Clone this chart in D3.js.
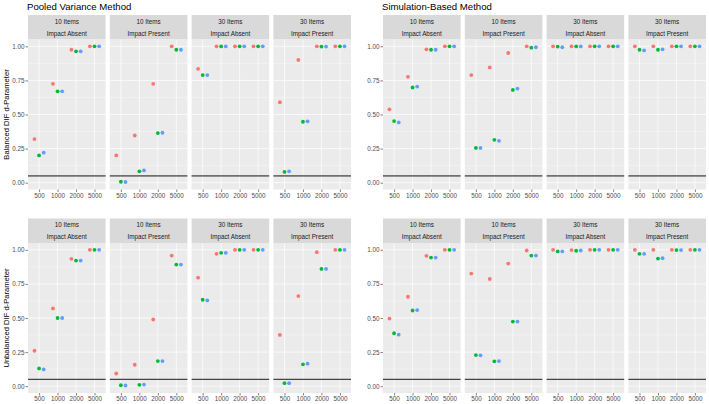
<!DOCTYPE html>
<html>
<head>
<meta charset="utf-8">
<script src="https://cdn.jsdelivr.net/npm/d3@7"></script>
<style>
body { margin: 0; background: #fff; }
svg { font-family: "Liberation Sans", Arial, sans-serif; }
</style>
</head>
<body>
<script>
// facets and categories
var methods = ["Pooled Variance Method", "Simulation-Based Method"];
var rowTitles = ["Balanced DIF d-Parameter", "Unbalanced DIF d-Parameter"];
var facetItems = ["10 Items", "10 Items", "30 Items", "30 Items"];
var facetImpact = ["Impact Absent", "Impact Present", "Impact Absent", "Impact Present"];
var sampleSizes = ["500", "1000", "2000", "5000"];
var seriesKeys = ["s1", "s2", "s3"];
var seriesColors = ["#F8766D", "#00BA38", "#619CFF"];
var yTicks = [0, 0.25, 0.5, 0.75, 1];
var refLine = 0.05;

// values: 4 facets x 4 sample sizes
var pooledBalancedS1 = [0.32, 0.725, 0.975, 1.0,  0.20, 0.346, 0.725, 1.0,  0.835, 1.0, 1.0, 1.0,  0.59, 0.90, 1.0, 1.0];
var pooledBalancedS2 = [0.20, 0.67, 0.963, 1.0,   0.007, 0.083, 0.364, 0.975,  0.789, 0.999, 1.0, 1.0,  0.079, 0.447, 0.998, 1.0];
var pooledBalancedS3 = [0.22, 0.67, 0.963, 1.0,   0.005, 0.09, 0.366, 0.975,  0.789, 0.999, 1.0, 1.0,  0.083, 0.45, 0.998, 1.0];

var simBalancedS1 = [0.538, 0.776, 0.978, 1.0,  0.789, 0.845, 0.951, 1.0,  1.0, 1.0, 1.0, 1.0,  1.0, 1.0, 1.0, 1.0];
var simBalancedS2 = [0.452, 0.698, 0.975, 1.0,  0.255, 0.314, 0.68, 0.99,  0.998, 0.999, 1.0, 1.0,  0.975, 0.975, 1.0, 1.0];
var simBalancedS3 = [0.442, 0.705, 0.975, 1.0,  0.255, 0.307, 0.69, 0.993,  0.993, 0.999, 1.0, 1.0,  0.97, 0.978, 1.0, 1.0];

var pooledUnbalancedS1 = [0.26, 0.57, 0.934, 1.0,  0.093, 0.157, 0.489, 0.958,  0.796, 0.97, 1.0, 1.0,  0.376, 0.661, 0.983, 1.0];
var pooledUnbalancedS2 = [0.13, 0.50, 0.921, 1.0,  0.007, 0.01, 0.184, 0.892,  0.634, 0.978, 1.0, 1.0,  0.022, 0.16, 0.86, 1.0];
var pooledUnbalancedS3 = [0.123, 0.50, 0.921, 1.0, 0.005, 0.012, 0.184, 0.892,  0.629, 0.978, 1.0, 1.0,  0.022, 0.165, 0.86, 1.0];

var simUnbalancedS1 = [0.496, 0.656, 0.956, 1.0,  0.826, 0.786, 0.899, 0.995,  1.0, 0.998, 1.0, 1.0,  1.0, 1.0, 1.0, 1.0];
var simUnbalancedS2 = [0.388, 0.555, 0.943, 1.0,  0.228, 0.182, 0.474, 0.958,  0.988, 0.993, 1.0, 1.0,  0.97, 0.936, 0.998, 1.0];
var simUnbalancedS3 = [0.378, 0.558, 0.943, 1.0,  0.226, 0.184, 0.474, 0.958,  0.988, 0.995, 1.0, 1.0,  0.97, 0.939, 0.998, 1.0];

// panels[row][method] -> [s1, s2, s3]
var panels = [
	[[pooledBalancedS1, pooledBalancedS2, pooledBalancedS3], [simBalancedS1, simBalancedS2, simBalancedS3]],
	[[pooledUnbalancedS1, pooledUnbalancedS2, pooledUnbalancedS3], [simUnbalancedS1, simUnbalancedS2, simUnbalancedS3]]
];

var width = 709, height = 404;
var methodX = [28, 383];
var facetW = 77.6, facetGap = 4.2;
var rowStripTop = [15, 218.5];
var stripH = 24.5;
var panelH = 150;

var svg = d3.select("body").append("svg")
	.attr("width", width)
	.attr("height", height);

// TITLES
methods.forEach(function(m, mi) {
	svg.append("text")
		.attr("x", methodX[mi] - 1)
		.attr("y", 10)
		.style("font-size", "9.6px")
		.style("fill", "#000")
		.text(m);
});

rowTitles.forEach(function(t, ri) {
	var top = rowStripTop[ri] + stripH;
	svg.append("text")
		.attr("transform", "translate(9," + (top + panelH / 2) + ") rotate(-90)")
		.attr("text-anchor", "middle")
		.style("font-size", "7.6px")
		.style("fill", "#000")
		.text(t);
});

var y0 = d3.scaleLinear().domain([-0.05, 1.05]);

rowTitles.forEach(function(rt, ri) {
	var pTop = rowStripTop[ri] + stripH;
	var y = y0.copy().range([pTop + panelH, pTop]);

	methods.forEach(function(m, mi) {
		// y axis on the left of each method block
		var ax = svg.append("g")
			.attr("transform", "translate(" + methodX[mi] + ",0)")
			.call(d3.axisLeft(y).tickValues(yTicks).tickSize(2.5).tickFormat(d3.format(".2f")));
		ax.select(".domain").remove();
		ax.selectAll("line").attr("stroke", "#333").attr("stroke-width", 0.6);
		ax.selectAll("text")
			.attr("x", -3.5)
			.style("font-size", "6.3px")
			.style("font-family", "Liberation Sans, Arial, sans-serif")
			.attr("fill", "#4d4d4d");

		facetItems.forEach(function(fi, f) {
			var fx = methodX[mi] + f * (facetW + facetGap);
			var x = d3.scalePoint().domain(sampleSizes).range([fx, fx + facetW]).padding(0.6);
			var dodge = x.step() * 0.25;

			// strip
			svg.append("rect")
				.attr("x", fx).attr("y", rowStripTop[ri])
				.attr("width", facetW).attr("height", stripH)
				.attr("fill", "#d9d9d9");
			svg.append("text")
				.attr("x", fx + facetW / 2).attr("y", rowStripTop[ri] + 8.8)
				.attr("text-anchor", "middle")
				.style("font-size", "6.3px").style("fill", "#1a1a1a")
				.text(fi);
			svg.append("text")
				.attr("x", fx + facetW / 2).attr("y", rowStripTop[ri] + 20.8)
				.attr("text-anchor", "middle")
				.style("font-size", "6.3px").style("fill", "#1a1a1a")
				.text(facetImpact[f]);

			// panel
			svg.append("rect")
				.attr("x", fx).attr("y", pTop)
				.attr("width", facetW).attr("height", panelH)
				.attr("fill", "#ebebeb");

			var minor = [0.125, 0.375, 0.625, 0.875];
			svg.selectAll(null).data(minor).enter().append("line")
				.attr("x1", fx).attr("x2", fx + facetW)
				.attr("y1", function(d) { return y(d); })
				.attr("y2", function(d) { return y(d); })
				.attr("stroke", "#fff").attr("stroke-width", 0.35);
			svg.selectAll(null).data(yTicks).enter().append("line")
				.attr("x1", fx).attr("x2", fx + facetW)
				.attr("y1", function(d) { return y(d); })
				.attr("y2", function(d) { return y(d); })
				.attr("stroke", "#fff").attr("stroke-width", 0.7);
			svg.selectAll(null).data(sampleSizes).enter().append("line")
				.attr("x1", function(d) { return x(d); })
				.attr("x2", function(d) { return x(d); })
				.attr("y1", pTop).attr("y2", pTop + panelH)
				.attr("stroke", "#fff").attr("stroke-width", 0.7);

			// x axis
			var xa = svg.append("g")
				.attr("transform", "translate(0," + (pTop + panelH) + ")")
				.call(d3.axisBottom(x).tickSize(2.5).tickPadding(1.5));
			xa.select(".domain").remove();
			xa.selectAll("line").attr("stroke", "#333").attr("stroke-width", 0.6);
			xa.selectAll("text")
				.style("font-size", "6.3px")
				.style("font-family", "Liberation Sans, Arial, sans-serif")
				.attr("fill", "#4d4d4d");

			// reference line
			svg.append("line")
				.attr("x1", fx).attr("x2", fx + facetW)
				.attr("y1", y(refLine)).attr("y2", y(refLine))
				.attr("stroke", ri === 0 ? "#707070" : "#444")
				.attr("stroke-width", ri === 0 ? 1.6 : 1.1);

			// points
			seriesKeys.forEach(function(sk, si) {
				var vals = panels[ri][mi][si].slice(f * 4, f * 4 + 4);
				svg.selectAll(null).data(vals).enter().append("circle")
					.attr("class", "pt " + sk)
					.attr("cx", function(d, i) { return x(sampleSizes[i]) + (si - 1) * dodge; })
					.attr("cy", function(d) { return y(d); })
					.attr("r", 1.9)
					.attr("fill", seriesColors[si]);
			});
		});
	});
});
</script>
</body>
</html>
